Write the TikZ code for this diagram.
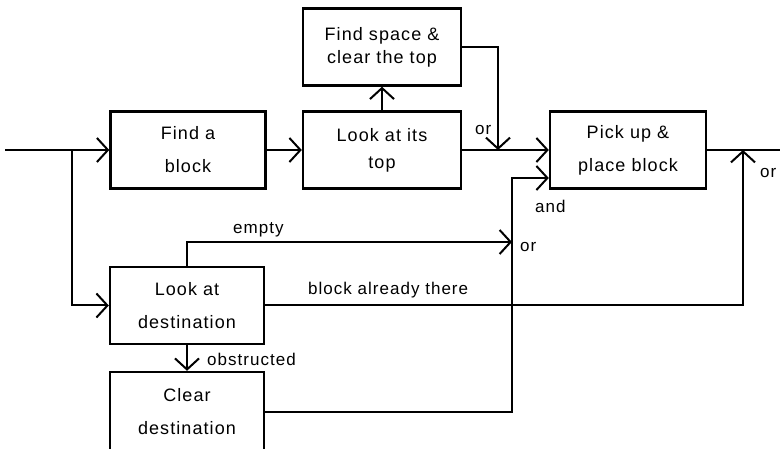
\documentclass[tikz,border=0pt]{standalone}
\usepackage{fontspec}
\setmainfont{Liberation Sans}[LetterSpace=6]
\usetikzlibrary{positioning, arrows.meta, calc}

\begin{document}
\begin{tikzpicture}[x=1pt, y=-1pt,
    box/.style={draw, line width=2.4pt, minimum width=155pt, minimum height=77pt,
        align=center, inner sep=0pt, font=\fontsize{18}{33}\selectfont},
    flow/.style={line width=2pt, -{Straight Barb[length=11pt,width=24pt]}},
    wire/.style={line width=2pt},
    lbl/.style={font=\fontsize{17}{20}\selectfont, inner sep=0pt, anchor=base west}]
    \useasboundingbox (0,0) rectangle (780,449);
    % boxes
    \node[box] (find) at (188,150) {Find a\\block};
    \node[box, minimum width=158pt, font=\fontsize{18}{27}\selectfont] (looktop) at (382,150) {Look at its\\top};
    \node[box, minimum width=158pt, font=\fontsize{18}{23}\selectfont] (space) at (382,47) {Find space \&\\clear the top};
    \node[box, minimum width=156pt] (pick) at (628,150) {Pick up \&\\place block};
    \node[box, minimum width=154pt] (lookdest) at (187,305.5) {Look at\\destination};
    \node[box, minimum width=154pt, minimum height=80pt] (cleardest) at (187,412) {Clear\\destination};
    % junction points
    \coordinate (start) at (5,150);
    \coordinate (split) at (72,150);
    \coordinate (orjoin) at (498,150);
    \coordinate (bus) at (512,178);
    \coordinate (emptyin) at (512,242);
    \coordinate (orup) at (743,150);
    \coordinate (out) at (780,150);
    % connectors
    \draw[flow] (start) -- (find);
    \draw[flow] (split) |- (lookdest);
    \draw[flow] (find) -- (looktop);
    \draw[flow] (looktop) -- (space);
    \draw[flow] (space) -| (orjoin);
    \draw[flow] (looktop) -- (pick);
    \draw[flow] (cleardest) -| (bus) -- (bus -| pick.west);
    \draw[flow] (lookdest) |- (emptyin);
    \draw[flow] (lookdest) -| (orup);
    \draw[flow] (lookdest) -- (cleardest);
    \draw[wire] (pick) -- (out);
    % labels
    \node[lbl] (orA) at (475,135) {or};
    \node[lbl] (andlbl) at (535,213) {and};
    \node[lbl] (orB) at (520,252) {or};
    \node[lbl] (orC) at (760,178) {or};
    \node[lbl] (emptylbl) at (233,234) {empty};
    \node[lbl] (already) at (308,295) {block already there};
    \node[lbl] (obstr) at (207,366) {obstructed};
\end{tikzpicture}
\end{document}
